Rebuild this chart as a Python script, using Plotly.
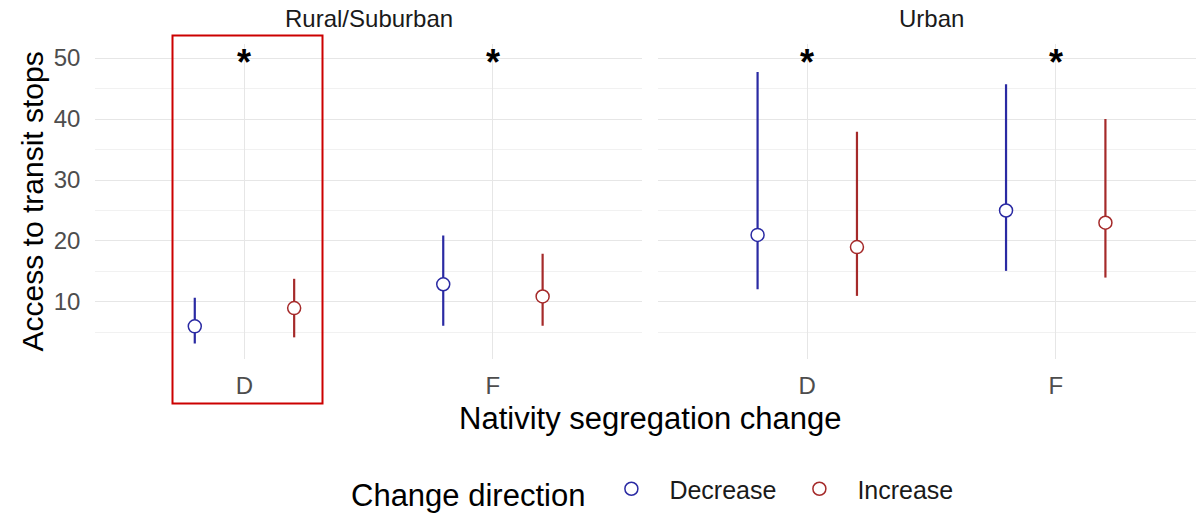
import plotly.graph_objects as go

# ---- data ----
locations = ["Rural/Suburban", "Urban"]
categories = ["D", "F"]
directions = ["Decrease", "Increase"]

est_decrease = {"Rural/Suburban": [6.0, 12.9], "Urban": [21.0, 25.0]}
low_decrease = {"Rural/Suburban": [3.2, 6.1], "Urban": [12.1, 15.1]}
high_decrease = {"Rural/Suburban": [10.7, 20.9], "Urban": [47.7, 45.7]}

est_increase = {"Rural/Suburban": [9.0, 10.9], "Urban": [19.0, 23.0]}
low_increase = {"Rural/Suburban": [4.2, 6.1], "Urban": [11.0, 14.0]}
high_increase = {"Rural/Suburban": [13.8, 17.9], "Urban": [37.9, 40.0]}

signif_y = [50, 50]
signif_label = ["*", "*"]

y_ticks = [10, 20, 30, 40, 50]

# ---- styling ----
W, H = 1196, 513
colors = {"Decrease": "#2A2AA3", "Increase": "#A52A2A"}
dodge = {"Decrease": -0.2, "Increase": 0.2}
FONT = "Liberation Sans, Arial, sans-serif"

series = {
    "Decrease": (est_decrease, low_decrease, high_decrease),
    "Increase": (est_increase, low_increase, high_increase),
}

fig = go.Figure()
axes = [("x", "y"), ("x2", "y2")]
for li, loc in enumerate(locations):
    xa, ya = axes[li]
    for d in directions:
        est, lo, hi = series[d]
        xs = [i + 1 + dodge[d] for i in range(len(categories))]
        e = est[loc]
        fig.add_trace(go.Scatter(
            x=xs, y=e, xaxis=xa, yaxis=ya, mode="markers", name=d,
            legendgroup=d, showlegend=(li == 0),
            marker=dict(symbol="circle", size=13, color="white",
                        line=dict(color=colors[d], width=1.5)),
            error_y=dict(type="data", symmetric=False,
                         array=[h - v for h, v in zip(hi[loc], e)],
                         arrayminus=[v - l for v, l in zip(e, lo[loc])],
                         color=colors[d], thickness=2.2, width=0),
        ))
    # significance markers
    for i, (sy, lab) in enumerate(zip(signif_y, signif_label)):
        fig.add_annotation(x=i + 1, y=sy, xref=xa, yref=ya, text="<b>%s</b>" % lab,
                           showarrow=False, xanchor="center", yanchor="top", yshift=18,
                           font=dict(size=36, color="black", family=FONT))

# panel geometry (pixels)
p1_left, p1_right = 95.4, 642.0
p2_left, p2_right = 658.2, 1196.0
top_px, bot_px = 43.7, 359.0
unit = (p1_right - p1_left) / 2.2

grid = "#E6E6E6"
minor_grid = "#F1F1F1"
common_x = dict(tickvals=[1, 2], ticktext=categories, showgrid=True,
                gridcolor=grid, gridwidth=1.4, zeroline=False,
                showline=False, ticks="", ticklen=0, ticklabelstandoff=10,
                tickfont=dict(size=24, color="#4D4D4D", family=FONT))
fig.update_layout(
    xaxis=dict(domain=[p1_left / W, p1_right / W], range=[0.4, 2.6], **common_x),
    xaxis2=dict(domain=[p2_left / W, 1.0],
                range=[0.4, 0.4 + (p2_right - p2_left) / unit], **common_x),
    yaxis=dict(domain=[1 - bot_px / H, 1 - top_px / H], range=[0.65, 52.35],
               tickvals=y_ticks, showgrid=True, gridcolor=grid, gridwidth=1.4,
               minor=dict(dtick=5, tick0=0, showgrid=True, gridcolor=minor_grid, gridwidth=1),
               zeroline=False, showline=False, ticks="", ticklabelstandoff=14,
               tickfont=dict(size=24, color="#4D4D4D", family=FONT),
               title=dict(text="Access to transit stops", standoff=1,
                          font=dict(size=30, color="black", family=FONT))),
    yaxis2=dict(domain=[1 - bot_px / H, 1 - top_px / H], matches="y", anchor="x2",
                showticklabels=False, showgrid=True, gridcolor=grid, gridwidth=1.4,
                minor=dict(dtick=5, tick0=0, showgrid=True, gridcolor=minor_grid, gridwidth=1),
                zeroline=False, showline=False, ticks=""),
    width=W, height=H,
    margin=dict(l=0, r=0, t=0, b=0, autoexpand=False),
    paper_bgcolor="white", plot_bgcolor="white",
    font=dict(family=FONT),
    legend=dict(orientation="h", x=349 / W, xanchor="left", y=1 - 466 / H, yanchor="top",
                itemwidth=66,
                title=dict(text="Change direction", side="left",
                           font=dict(size=31, color="black", family=FONT)),
                font=dict(size=25, color="#1A1A1A", family=FONT),
                bgcolor="rgba(0,0,0,0)"),
)

# facet strip labels
for loc, (l, r) in zip(locations, [(p1_left, p1_right), (p2_left, 1205.0)]):
    fig.add_annotation(text=loc, x=(l + r) / 2 / W, y=1 - 19 / H, xref="paper", yref="paper",
                       showarrow=False, xanchor="center", yanchor="middle",
                       font=dict(size=24, color="#1A1A1A", family=FONT))

# x axis title
fig.add_annotation(text="Nativity segregation change", x=650 / W, y=1 - 418 / H,
                   xref="paper", yref="paper", showarrow=False,
                   xanchor="center", yanchor="middle",
                   font=dict(size=31, color="black", family=FONT))

# highlight rectangle
fig.add_shape(type="rect", xref="paper", yref="paper",
              x0=172.5 / W, x1=322.5 / W, y0=1 - 403.5 / H, y1=1 - 35.5 / H,
              line=dict(color="#CC0000", width=2), fillcolor="rgba(0,0,0,0)")

fig.write_html("out.html")
